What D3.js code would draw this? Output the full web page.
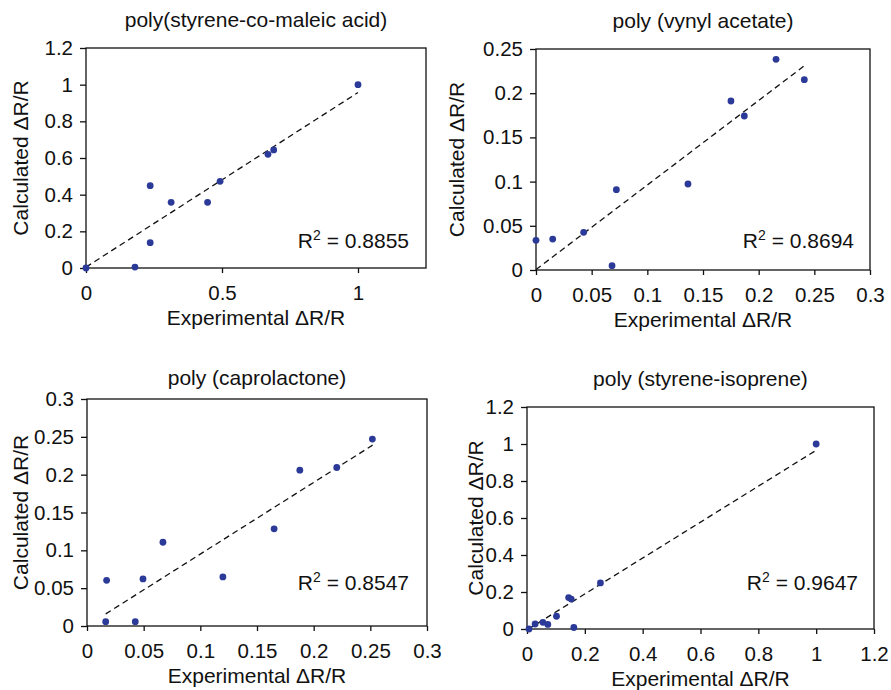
<!DOCTYPE html>
<html>
<head>
<meta charset="utf-8">
<script src="https://cdn.jsdelivr.net/npm/d3@7"></script>
<style>
  html, body { margin: 0; padding: 0; background: #fff; }
  svg { display: block; font-family: "Liberation Sans", Arial, sans-serif; }
</style>
</head>
<body>
<div id="chart"></div>
<script>
// Data
const titles = [
    'poly(styrene-co-maleic acid)',
    'poly (vynyl acetate)',
    'poly (caprolactone)',
    'poly (styrene-isoprene)'
];

const smaX = [0, 0.18, 0.236, 0.236, 0.313, 0.447, 0.493, 0.669, 0.690, 1.0];
const smaY = [0, 0.005, 0.449, 0.138, 0.358, 0.358, 0.473, 0.620, 0.644, 1.0];

const vaX = [0, 0.015, 0.0428, 0.0683, 0.0722, 0.1365, 0.1751, 0.1871, 0.2156, 0.241];
const vaY = [0.0336, 0.035, 0.0426, 0.0049, 0.0909, 0.0973, 0.1912, 0.1742, 0.2383, 0.2153];

const pclX = [0.0165, 0.0173, 0.0426, 0.0494, 0.067, 0.1199, 0.1651, 0.1878, 0.2204, 0.2518];
const pclY = [0.0057, 0.0604, 0.0057, 0.0622, 0.1107, 0.0648, 0.1284, 0.206, 0.2095, 0.247];

const sisX = [0.007, 0.028, 0.055, 0.072, 0.102, 0.144, 0.153, 0.162, 0.254, 1.0];
const sisY = [0, 0.027, 0.036, 0.025, 0.069, 0.170, 0.162, 0.008, 0.249, 1.0];

// trendline end points [x0, y0, x1, y1]
const trends = [
    [0, 0.005, 1.0, 0.957],
    [0, 0.0005, 0.241, 0.231],
    [0.0165, 0.016, 0.252, 0.239],
    [0.007, 0.002, 1.0, 0.966]
];
const r2Values = ['0.8855', '0.8694', '0.8547', '0.9647'];

const xDomains = [[0, 1.25], [0, 0.3], [0, 0.3], [0, 1.2]];
const yDomains = [[0, 1.2], [0, 0.25], [0, 0.3], [0, 1.2]];
const xTicks = [
    [0, 0.5, 1],
    [0, 0.05, 0.1, 0.15, 0.2, 0.25, 0.3],
    [0, 0.05, 0.1, 0.15, 0.2, 0.25, 0.3],
    [0, 0.2, 0.4, 0.6, 0.8, 1, 1.2]
];
const yTicks = [
    [0, 0.2, 0.4, 0.6, 0.8, 1, 1.2],
    [0, 0.05, 0.1, 0.15, 0.2, 0.25],
    [0, 0.05, 0.1, 0.15, 0.2, 0.25, 0.3],
    [0, 0.2, 0.4, 0.6, 0.8, 1, 1.2]
];

const xLabel = 'Experimental \u0394R/R';
const yLabel = 'Calculated \u0394R/R';

// panel boxes in pixels
const layout = [
    { left: 86, right: 426, top: 48, bottom: 268, titleY: 27, yLabX: 28, r2X: 409, r2Y: 248 },
    { left: 536, right: 870, top: 49, bottom: 270, titleY: 28, yLabX: 464, r2X: 854, r2Y: 248 },
    { left: 87, right: 427, top: 399, bottom: 626, titleY: 385, yLabX: 28, r2X: 409, r2Y: 590 },
    { left: 527, right: 874, top: 407, bottom: 629, titleY: 386, yLabX: 483, r2X: 858, r2Y: 590 }
];

const seriesX = [smaX, vaX, pclX, sisX];
const seriesY = [smaY, vaY, pclY, sisY];

const width = 891;
const height = 690;
const textColor = '#111';
const dotColor = '#2b3a98';

const svg = d3.select('#chart')
    .append('svg')
    .attr('width', width)
    .attr('height', height)
    .attr('viewBox', [0, 0, width, height]);

layout.forEach((L, i) => {
    const x = d3.scaleLinear().domain(xDomains[i]).range([L.left, L.right]);
    const y = d3.scaleLinear().domain(yDomains[i]).range([L.bottom, L.top]);
    const g = svg.append('g');

    // frame
    g.append('rect')
        .attr('x', L.left)
        .attr('y', L.top)
        .attr('width', L.right - L.left)
        .attr('height', L.bottom - L.top)
        .attr('fill', 'none')
        .attr('stroke', '#111')
        .attr('stroke-width', 1.3);

    // axes
    const fmt = d3.format('~g');
    const gx = g.append('g')
        .attr('transform', `translate(0,${L.bottom})`)
        .call(d3.axisBottom(x).tickValues(xTicks[i]).tickFormat(fmt)
            .tickSize(5).tickSizeOuter(0).tickPadding(12));
    const gy = g.append('g')
        .attr('transform', `translate(${L.left},0)`)
        .call(d3.axisLeft(y).tickValues(yTicks[i]).tickFormat(fmt)
            .tickSize(6).tickSizeOuter(0).tickPadding(7));
    [gx, gy].forEach(a => {
        a.select('.domain').remove();
        a.selectAll('line').attr('stroke', '#111').attr('stroke-width', 1.3);
        a.selectAll('text')
            .attr('fill', textColor)
            .style('font-size', '20.5px')
            .style('font-family', '"Liberation Sans", Arial, sans-serif');
    });

    // trendline
    const t = trends[i];
    g.append('line')
        .attr('x1', x(t[0])).attr('y1', y(t[1]))
        .attr('x2', x(t[2])).attr('y2', y(t[3]))
        .attr('stroke', '#111')
        .attr('stroke-width', 1.3)
        .attr('stroke-dasharray', '6,4');

    // points
    g.append('g')
        .selectAll('circle')
        .data(d3.range(seriesX[i].length))
        .join('circle')
        .attr('cx', k => x(seriesX[i][k]))
        .attr('cy', k => y(seriesY[i][k]))
        .attr('r', 3.4)
        .attr('fill', dotColor);

    // title
    g.append('text')
        .attr('x', (L.left + L.right) / 2)
        .attr('y', L.titleY)
        .attr('text-anchor', 'middle')
        .attr('fill', textColor)
        .style('font-size', '21px')
        .text(titles[i]);

    // axis titles
    g.append('text')
        .attr('x', (L.left + L.right) / 2)
        .attr('y', L.bottom + 57)
        .attr('text-anchor', 'middle')
        .attr('fill', textColor)
        .style('font-size', '21px')
        .text(xLabel);

    g.append('text')
        .attr('transform', `translate(${L.yLabX},${(L.top + L.bottom) / 2}) rotate(-90)`)
        .attr('text-anchor', 'middle')
        .attr('fill', textColor)
        .style('font-size', '21px')
        .text(yLabel);

    // R squared
    const r2 = g.append('text')
        .attr('x', L.r2X)
        .attr('y', L.r2Y)
        .attr('text-anchor', 'end')
        .attr('fill', textColor)
        .style('font-size', '21px');
    r2.append('tspan').text('R');
    r2.append('tspan').attr('dy', -8).style('font-size', '14px').text('2');
    r2.append('tspan').attr('dy', 8).text(' = ' + r2Values[i]);
});
</script>
</body>
</html>
